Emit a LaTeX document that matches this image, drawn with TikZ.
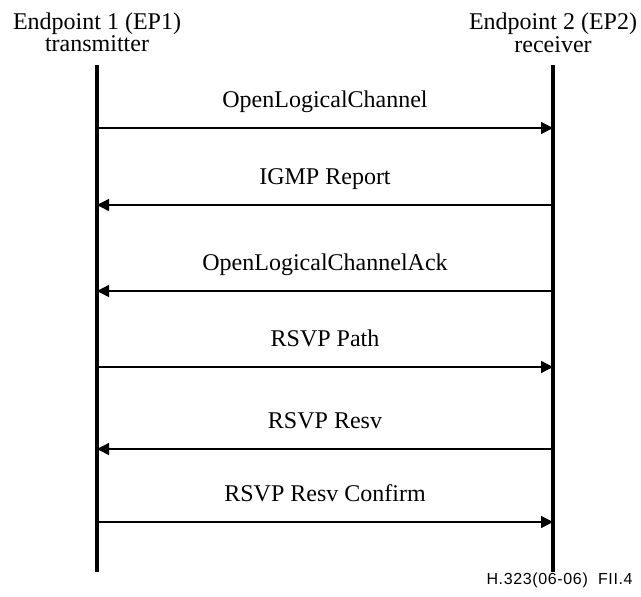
\documentclass[tikz,border=0pt]{standalone}
\usepackage{fontspec}
\setmainfont{Liberation Serif}
\newfontfamily\figfont[LetterSpace=4]{Liberation Sans}
\usetikzlibrary{arrows.meta, positioning}
\tikzset{
  lifeline/.style={line width=1.7pt},
  msg/.style={line width=0.7pt, -{Triangle[length=6pt, width=6pt]}},
  msglabel/.style={anchor=base, inner sep=0pt, font=\fontsize{12}{14}\selectfont},
}

\begin{document}
\begin{tikzpicture}[x=0.5pt, y=-0.5pt]
  \useasboundingbox (0,0) rectangle (641,596);
  % ── Endpoint 1 ──
  \node[msglabel] (ep1name) at (97,29) {Endpoint 1 (EP1)};
  \node[msglabel] (ep1role) at (97,51) {transmitter};
  \coordinate (ep1top) at (97,65);
  \coordinate (ep1bot) at (97,572);
  \draw[lifeline] (ep1top) -- (ep1bot);
  % ── Endpoint 2 ──
  \node[msglabel] (ep2name) at (553,29) {Endpoint 2 (EP2)};
  \node[msglabel] (ep2role) at (553,52) {receiver};
  \coordinate (ep2top) at (553,65);
  \coordinate (ep2bot) at (553,572);
  \draw[lifeline] (ep2top) -- (ep2bot);
  % ── Messages ──
  \foreach \y/\src/\dst/\txt [count=\i] in {
      128/a/b/OpenLogicalChannel,
      205/b/a/IGMP Report,
      291/b/a/OpenLogicalChannelAck,
      367/a/b/RSVP Path,
      449/b/a/RSVP Resv,
      522/a/b/RSVP Resv Confirm} {
    \coordinate (a\i) at (ep1top |- 0,\y);
    \coordinate (b\i) at (ep2top |- 0,\y);
    \draw[msg] (\src\i) -- (\dst\i)
      node[midway, msglabel, yshift=10.5pt] (lbl\i) {\txt};
  }
  % ── Figure tag ──
  \node[anchor=base east, inner sep=0pt, font=\figfont\fontsize{8}{9}\selectfont]
    (tag) at (633,584) {H.323(06-06)\ \ FII.4};
\end{tikzpicture}
\end{document}
